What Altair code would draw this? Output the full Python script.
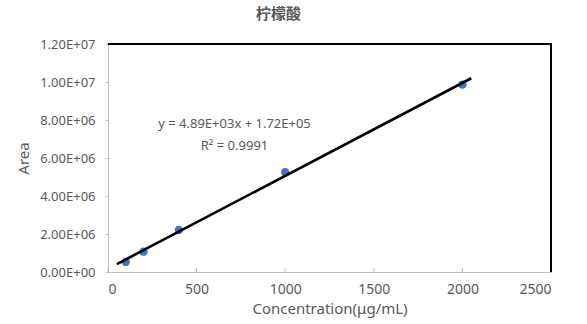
import altair as alt
import pandas as pd

# ---- data ----
conc = [100, 200, 400, 1000, 2000]
area = [0.53e6, 1.07e6, 2.21e6, 5.25e6, 9.86e6]
trend_x = [50, 2050]
trend_y = [4.16e5, 1.0196e7]
x_ticks = [0, 500, 1000, 1500, 2000, 2500]
y_ticks = [0, 2000000, 4000000, 6000000, 8000000, 10000000, 12000000]
eq_lines = ["y = 4.89E+03x + 1.72E+05", "R² = 0.9991"]
eq_x = [714, 714]
eq_y = [7.79e6, 6.63e6]

W, H = 443, 228
GRAY = "#595959"
AXIS_GRAY = "#BFBFBF"
FONT = "Noto Sans"

pts = pd.DataFrame({"c": conc, "a": area})
trend = pd.DataFrame({"c": trend_x, "a": trend_y})
ann = pd.DataFrame({"c": eq_x, "a": eq_y, "t": eq_lines})
xt = pd.DataFrame({"c": x_ticks})
one = pd.DataFrame({"k": [0]})

xscale = alt.Scale(domain=[0, 2500], nice=False)
yscale = alt.Scale(domain=[0, 12000000], nice=False)

ylabel = ("datum.value == 0 ? '0.00E+00' : "
          "format(datum.value / pow(10, floor(log(datum.value) / LN10 + 0.000001)), '.2f')"
          " + 'E+0' + floor(log(datum.value) / LN10 + 0.000001)")

xaxis = alt.Axis(values=x_ticks, grid=False, tickSize=0, labelPadding=10, format="d",
                 labelOverlap=False,
                 domainColor=AXIS_GRAY, labelColor=GRAY, labelFont=FONT, labelFontSize=14,
                 title="Concentration(μg/mL)", titleColor=GRAY, titleFont=FONT,
                 titleFontSize=15, titleFontWeight="normal", titlePadding=5)
yaxis = alt.Axis(values=y_ticks, grid=False, tickSize=3, tickColor=AXIS_GRAY,
                 labelPadding=10, labelExpr=ylabel, labelOverlap=False, labelSeparation=0,
                 domainColor=AXIS_GRAY, labelColor=GRAY, labelFont=FONT, labelFontSize=13,
                 title="Area", titleColor=GRAY, titleFont=FONT,
                 titleFontSize=15, titleFontWeight="normal", titlePadding=8)

X = alt.X("c:Q", scale=xscale, axis=xaxis)
Y = alt.Y("a:Q", scale=yscale, axis=yaxis)

points = alt.Chart(pts).mark_circle(size=70, color="#4472C4", opacity=1).encode(x=X, y=Y)

line = alt.Chart(trend).mark_line(color="black", strokeWidth=2.6).encode(x=X, y=Y)

inner_ticks = alt.Chart(xt).mark_rule(color=AXIS_GRAY, strokeWidth=1).encode(
    x=X,
    y=alt.value(H),
    y2=alt.value(H - 4),
)

text = alt.Chart(ann).mark_text(font=FONT, fontSize=13, color=GRAY, align="center",
                                baseline="middle").encode(x=X, y=Y, text="t:N")

top_border = alt.Chart(one).mark_rule(color="black", strokeWidth=2).encode(
    x=alt.value(0), x2=alt.value(W + 1), y=alt.value(0))
right_border = alt.Chart(one).mark_rule(color="black", strokeWidth=2).encode(
    x=alt.value(W), y=alt.value(-1), y2=alt.value(H))

chart = alt.layer(points, inner_ticks, line, text, top_border, right_border).properties(
    width=W, height=H,
    padding={"left": 108, "top": 44, "right": 36, "bottom": 52},
    autosize="none",
    title=alt.TitleParams("柠檬酸", font="Noto Sans CJK SC", fontSize=15, color=GRAY,
                          fontWeight="bold", anchor="middle", dx=-51, offset=16),
).configure_view(stroke=None).configure(background="white").configure_axis(labelOverlap=False)

chart.save("out.html", embed_options={"renderer": "svg", "actions": False})
